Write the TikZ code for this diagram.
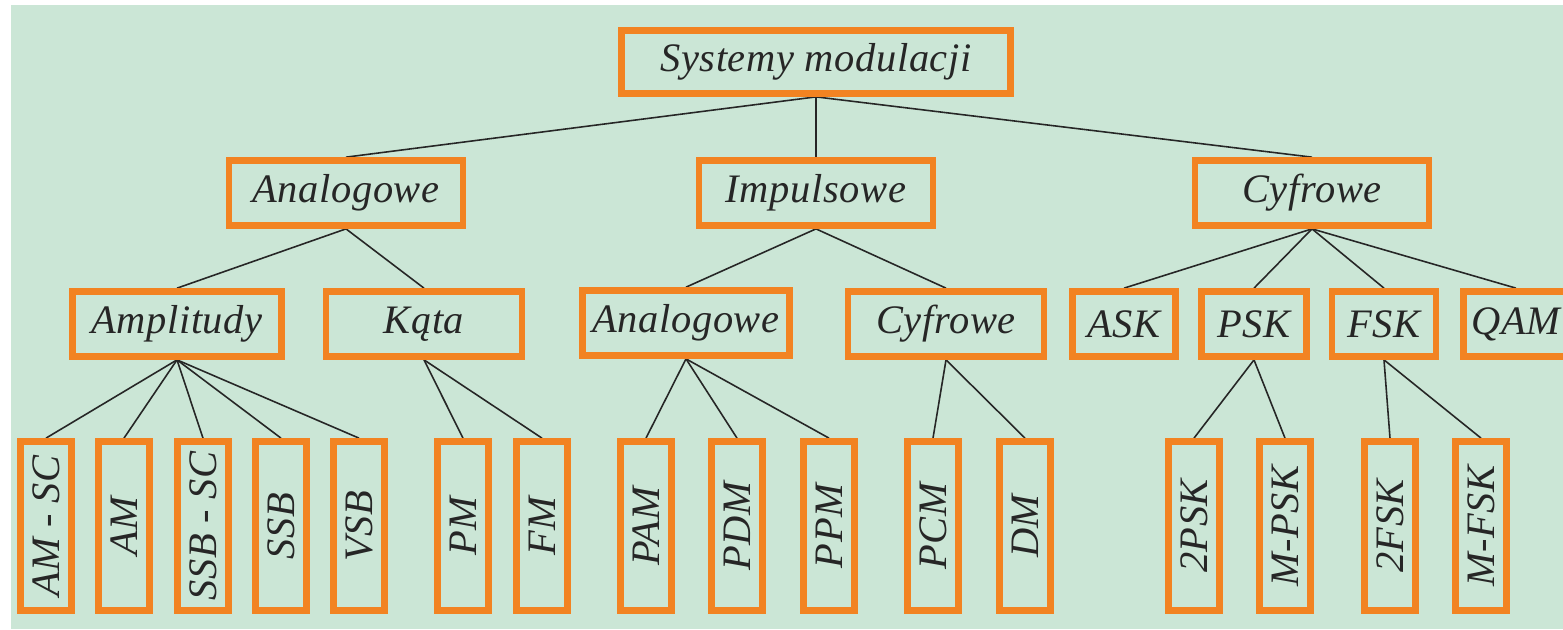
\documentclass[tikz,border=0pt]{standalone}
\usepackage{graphicx}
\usepackage{fontspec}
\setmainfont[LetterSpace=1.5]{Liberation Serif}
\usetikzlibrary{backgrounds}
\definecolor{bggreen}{RGB}{203,230,214}
\definecolor{modorange}{RGB}{242,131,34}
\newcommand{\vtxt}[1]{\rotatebox{90}{#1}}

\begin{document}
\begin{tikzpicture}[x=0.01cm,y=-0.01cm,
    box/.style={draw=modorange,line width=1.9pt,inner sep=0pt,text=black!85,
      font=\fontsize{11.5}{13}\selectfont\itshape},
    topbox/.style={box,minimum width=3.89cm,minimum height=0.63cm},
    midbox/.style={box,minimum width=2.34cm,minimum height=0.65cm},
    subbox/.style={box,minimum width=#1,minimum height=0.65cm},
    leaf/.style={box,minimum width=0.51cm,minimum height=1.69cm},
    link/.style={line width=0.45pt,black!85}]
  \useasboundingbox (0,0) rectangle (1563,629);
  % root
  \node[topbox] (sys) at (816,62) {Systemy modulacji};
  % second level
  \node[midbox] (ana) at (346,193) {Analogowe};
  \node[midbox] (imp) at (816,193) {Impulsowe};
  \node[midbox] (cyf) at (1312,193) {Cyfrowe};
  % third level
  \node[subbox=2.09cm] (ampl) at (177,324) {Amplitudy};
  \node[subbox=1.96cm] (kata) at (424,324) {Kąta};
  \node[subbox=2.07cm] (iana) at (686,323) {Analogowe};
  \node[subbox=1.96cm] (icyf) at (946,324) {Cyfrowe};
  \node[subbox=1.03cm] (ask) at (1124,324) {ASK};
  \node[subbox=1.05cm] (psk) at (1254,324) {PSK};
  \node[subbox=1.04cm] (fsk) at (1384,324) {FSK};
  \node[subbox=1.05cm] (qam) at (1516,324) {QAM};
  % leaves
  \node[leaf] (amsc) at (46,526) {\vtxt{AM - SC}};
  \node[leaf] (am) at (124,526) {\vtxt{AM}};
  \node[leaf] (ssbsc) at (203,526) {\vtxt{SSB - SC}};
  \node[leaf] (ssb) at (281,526) {\vtxt{SSB}};
  \node[leaf] (vsb) at (359,526) {\vtxt{VSB}};
  \node[leaf] (pm) at (463,526) {\vtxt{PM}};
  \node[leaf] (fm) at (542,526) {\vtxt{FM}};
  \node[leaf] (pam) at (646,526) {\vtxt{PAM}};
  \node[leaf] (pdm) at (737,526) {\vtxt{PDM}};
  \node[leaf] (ppm) at (829,526) {\vtxt{PPM}};
  \node[leaf] (pcm) at (933,526) {\vtxt{PCM}};
  \node[leaf] (dm) at (1025,526) {\vtxt{DM}};
  \node[leaf] (psktwo) at (1194,526) {\vtxt{2PSK}};
  \node[leaf] (pskm) at (1285,526) {\vtxt{M-PSK}};
  \node[leaf] (fsktwo) at (1390,526) {\vtxt{2FSK}};
  \node[leaf] (fskm) at (1481,526) {\vtxt{M-FSK}};
  % background and connectors
  \begin{scope}[on background layer]
    \fill[bggreen] (11,5) rectangle (1563,629);
    \foreach \c in {ana,imp,cyf}
      \draw[link] (sys.south) -- (\c.north);
    \foreach \c in {ampl,kata}
      \draw[link] (ana.south) -- (\c.north);
    \foreach \c in {iana,icyf}
      \draw[link] (imp.south) -- (\c.north);
    \foreach \c in {ask,psk,fsk,qam}
      \draw[link] (cyf.south) -- (\c.north);
    \foreach \c in {amsc,am,ssbsc,ssb,vsb}
      \draw[link] (ampl.south) -- (\c.north);
    \foreach \c in {pm,fm}
      \draw[link] (kata.south) -- (\c.north);
    \foreach \c in {pam,pdm,ppm}
      \draw[link] (iana.south) -- (\c.north);
    \foreach \c in {pcm,dm}
      \draw[link] (icyf.south) -- (\c.north);
    \foreach \c in {psktwo,pskm}
      \draw[link] (psk.south) -- (\c.north);
    \foreach \c in {fsktwo,fskm}
      \draw[link] (fsk.south) -- (\c.north);
  \end{scope}
\end{tikzpicture}
\end{document}
